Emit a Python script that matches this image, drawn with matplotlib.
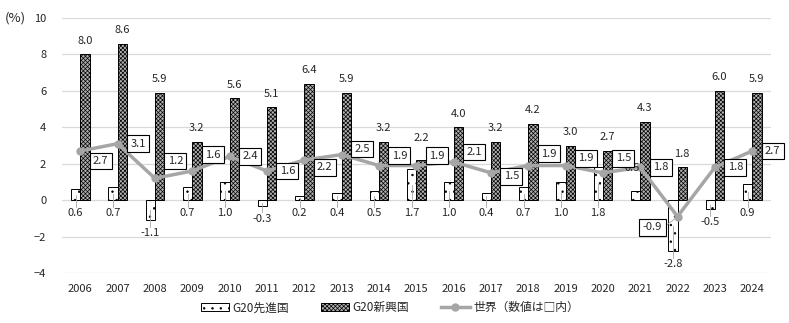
import numpy as np
import matplotlib.pyplot as plt
from matplotlib.patches import Patch
from matplotlib.lines import Line2D

plt.rcParams['font.family'] = ['Noto Sans CJK JP', 'DejaVu Sans']
plt.rcParams['hatch.linewidth'] = 0.5

# Data (%)
years = [2006, 2007, 2008, 2009, 2010, 2011, 2012, 2013, 2014, 2015,
         2016, 2017, 2018, 2019, 2020, 2021, 2022, 2023, 2024]
advanced = [0.6, 0.7, -1.1, 0.7, 1.0, -0.3, 0.2, 0.4, 0.5, 1.7,
            1.0, 0.4, 0.7, 1.0, 1.8, 0.5, -2.8, -0.5, 0.9]
emerging = [8.0, 8.6, 5.9, 3.2, 5.6, 5.1, 6.4, 5.9, 3.2, 2.2,
            4.0, 3.2, 4.2, 3.0, 2.7, 4.3, 1.8, 6.0, 5.9]
world = [2.7, 3.1, 1.2, 1.6, 2.4, 1.6, 2.2, 2.5, 1.9, 1.9,
         2.1, 1.5, 1.9, 1.9, 1.5, 1.8, -0.9, 1.8, 2.7]

# where the boxed world labels sit, relative to the point
world_dx = [0.55] * 16 + [-0.67] + [0.55] * 2
world_dy = [-0.55, 0.0, 0.95, 0.9, 0.0, 0.0, -0.4, 0.3, 0.55, 0.55,
            0.55, -0.2, 0.65, 0.4, 0.8, 0.0, -0.6, 0.0, 0.0]

text_c = '#262626'
line_c = '#a6a6a6'
fs = 8


def main():
    x = np.arange(len(years))
    w = 0.25

    fig = plt.figure(figsize=(7.89, 3.23), dpi=100)
    ax = fig.add_axes([0.078, 0.155, 0.899, 0.789])

    ax.bar(x - w / 2, advanced, w, facecolor='white', edgecolor='black',
           linewidth=0.7, hatch='..', zorder=2)
    ax.bar(x + w / 2, emerging, w, facecolor='#b0b0b0', edgecolor='black',
           linewidth=0.7, hatch='xxxxxxxx', zorder=2)
    ax.plot(x, world, color=line_c, lw=2.5, marker='o', ms=5, zorder=3)

    # advanced labels below the bars, with thin leaders
    for i, v in enumerate(advanced):
        xi = x[i] - w / 2
        if years[i] == 2021:
            ax.text(xi - 0.1, 1.75, f'{v:.1f}', ha='center', va='center',
                    fontsize=fs, color=text_c, zorder=4)
            continue
        ly = min(v, 0) - 0.72
        ax.plot([xi, xi], [ly + 0.35, v / 2], color=line_c, lw=0.6, zorder=2.5)
        ax.text(xi, ly, f'{v:.1f}', ha='center', va='center',
                fontsize=fs, color=text_c, zorder=4)

    # emerging labels on top
    for i, v in enumerate(emerging):
        extra = 0.45 if years[i] == 2015 else 0.0
        ax.text(x[i] + w / 2, v + 0.75 + extra, f'{v:.1f}', ha='center',
                va='center', fontsize=fs, color=text_c, zorder=4)

    # world values in boxes
    for i, v in enumerate(world):
        bx, by = x[i] + world_dx[i], v + world_dy[i]
        if world_dx[i] < 0:
            ax.plot([bx + 0.3, x[i]], [by, v], color=line_c, lw=0.6, zorder=2.5)
        ax.text(bx, by, f'{v:.1f}', ha='center', va='center',
                fontsize=fs, color=text_c, zorder=5,
                bbox=dict(boxstyle='square,pad=0.3', fc='white', ec='black', lw=0.8))

    ax.set_xlim(-0.5, len(years) - 0.5)
    ax.set_ylim(-4, 10)
    ax.set_yticks(range(-4, 11, 2))
    ax.set_xticks(x)
    ax.set_xticklabels([str(y) for y in years])
    ax.tick_params(length=0, labelsize=fs, labelcolor=text_c)
    ax.tick_params(axis='y', pad=11)
    ax.tick_params(axis='x', pad=8)
    ax.grid(axis='y', color='#d9d9d9', lw=0.9, zorder=0)
    ax.set_axisbelow(True)
    for s in ax.spines.values():
        s.set_visible(False)

    fig.text(0.019, 0.944, '(%)', ha='center', va='center', fontsize=9.5, color=text_c)

    handles = [
        Patch(facecolor='white', edgecolor='black', hatch='..', lw=0.7),
        Patch(facecolor='#b0b0b0', edgecolor='black', hatch='xxxxxxxx', lw=0.7),
        Line2D([0], [0], color=line_c, lw=2.5, marker='o', ms=5),
    ]
    labels = ['G20先進国', 'G20新興国', '世界（数値は□内）']
    fig.legend(handles, labels, loc='center', bbox_to_anchor=(0.494, 0.047),
               ncol=3, frameon=False, fontsize=8.5, handlelength=2.4,
               handleheight=0.6, handletextpad=0.3, columnspacing=2.7,
               labelcolor=text_c)

    fig.savefig('out.png', dpi=100)


if __name__ == "__main__":
    main()
